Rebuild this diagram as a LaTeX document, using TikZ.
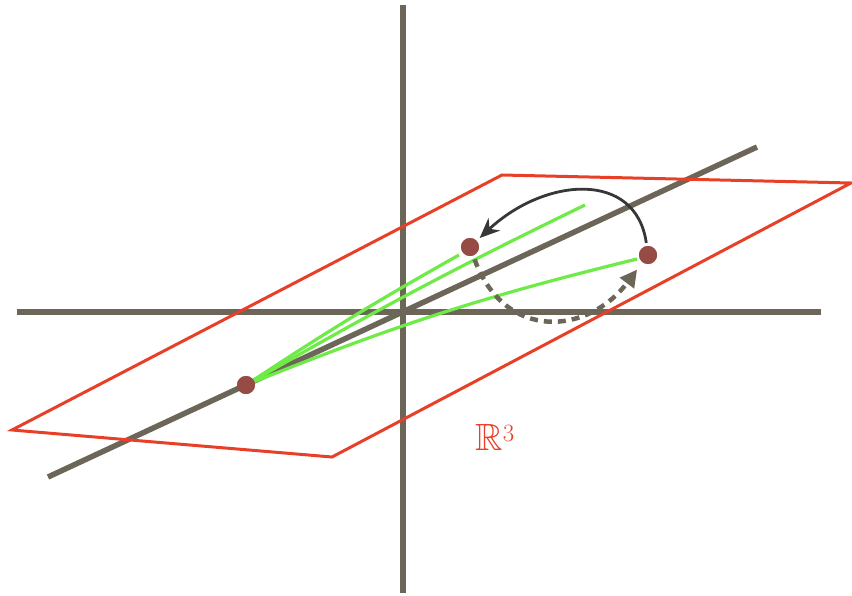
\documentclass[tikz,border=0pt]{standalone}
\usepackage{amsmath}
\usepackage{amssymb}
\usepackage{tikz}
\usetikzlibrary{positioning,arrows.meta}
\definecolor{AxisGrey}{RGB}{107,102,88}
\definecolor{PlaneRed}{RGB}{232,64,40}
\definecolor{RayGreen}{RGB}{110,235,70}
\definecolor{PointBrown}{RGB}{150,75,68}
\definecolor{ArcDark}{RGB}{55,55,55}

\begin{document}
\begin{tikzpicture}[
x=1pt, y=-1pt,
axis/.style={draw=AxisGrey, line width=5.5pt},
plane/.style={draw=PlaneRed, line width=3pt, line join=miter},
ray/.style={draw=RayGreen, line width=3.2pt},
pt/.style={circle, fill=PointBrown, minimum size=18pt, inner sep=0pt},
arc/.style={-{Stealth[length=20pt, width=17pt]}, draw=ArcDark, line width=2.8pt},
swap/.style={-{Triangle[length=17pt, width=17pt]}, draw=AxisGrey, line width=4.5pt, dash pattern=on 8pt off 6pt},
label/.style={text=PlaneRed, font=\fontsize{38}{42}\selectfont}
]
\useasboundingbox (0,0) rectangle (852,595);

\coordinate (ytop) at (403,5);
\coordinate (ybot) at (403,593);
\coordinate (xl) at (17,312);
\coordinate (xr) at (821,312);
\coordinate (dl) at (48,477);
\coordinate (dr) at (757,147);
\coordinate (c1) at (12,430);
\coordinate (c2) at (332,457);
\coordinate (c3) at (851,183);
\coordinate (c4) at (502,175);
\coordinate (g1) at (459,255);
\coordinate (g2) at (585,205);
\coordinate (g3) at (637,259);

\draw[axis] (ytop) -- (ybot);
\draw[axis] (xl) -- (xr);
\draw[axis] (dl) -- (dr);
\draw[plane] (c1) -- (c2) -- (c3) -- (c4) -- cycle;

\node[pt] (p) at (246,385) {};
\node[pt] (q) at (470,247) {};
\node[pt] (r) at (648,255) {};

\draw[ray] (p) to[bend left=2] (g1);
\draw[ray] (p) to[bend left=2] (g2);
\draw[ray] (p) to[bend left=4] (g3);

\node[pt] at (p) {};
\node[pt] at (q) {};
\node[pt] at (r) {};

\draw[arc, shorten <=3pt, shorten >=4pt] (r) .. controls +(-12,-85) and +(75,-70) .. (q);
\draw[swap, shorten <=4pt, shorten >=9pt] (q) .. controls +(35,95) and +(-60,80) .. (r);

\node[label] (rr) at (495,437) {$\mathbb{R}^3$};
\end{tikzpicture}
\end{document}
